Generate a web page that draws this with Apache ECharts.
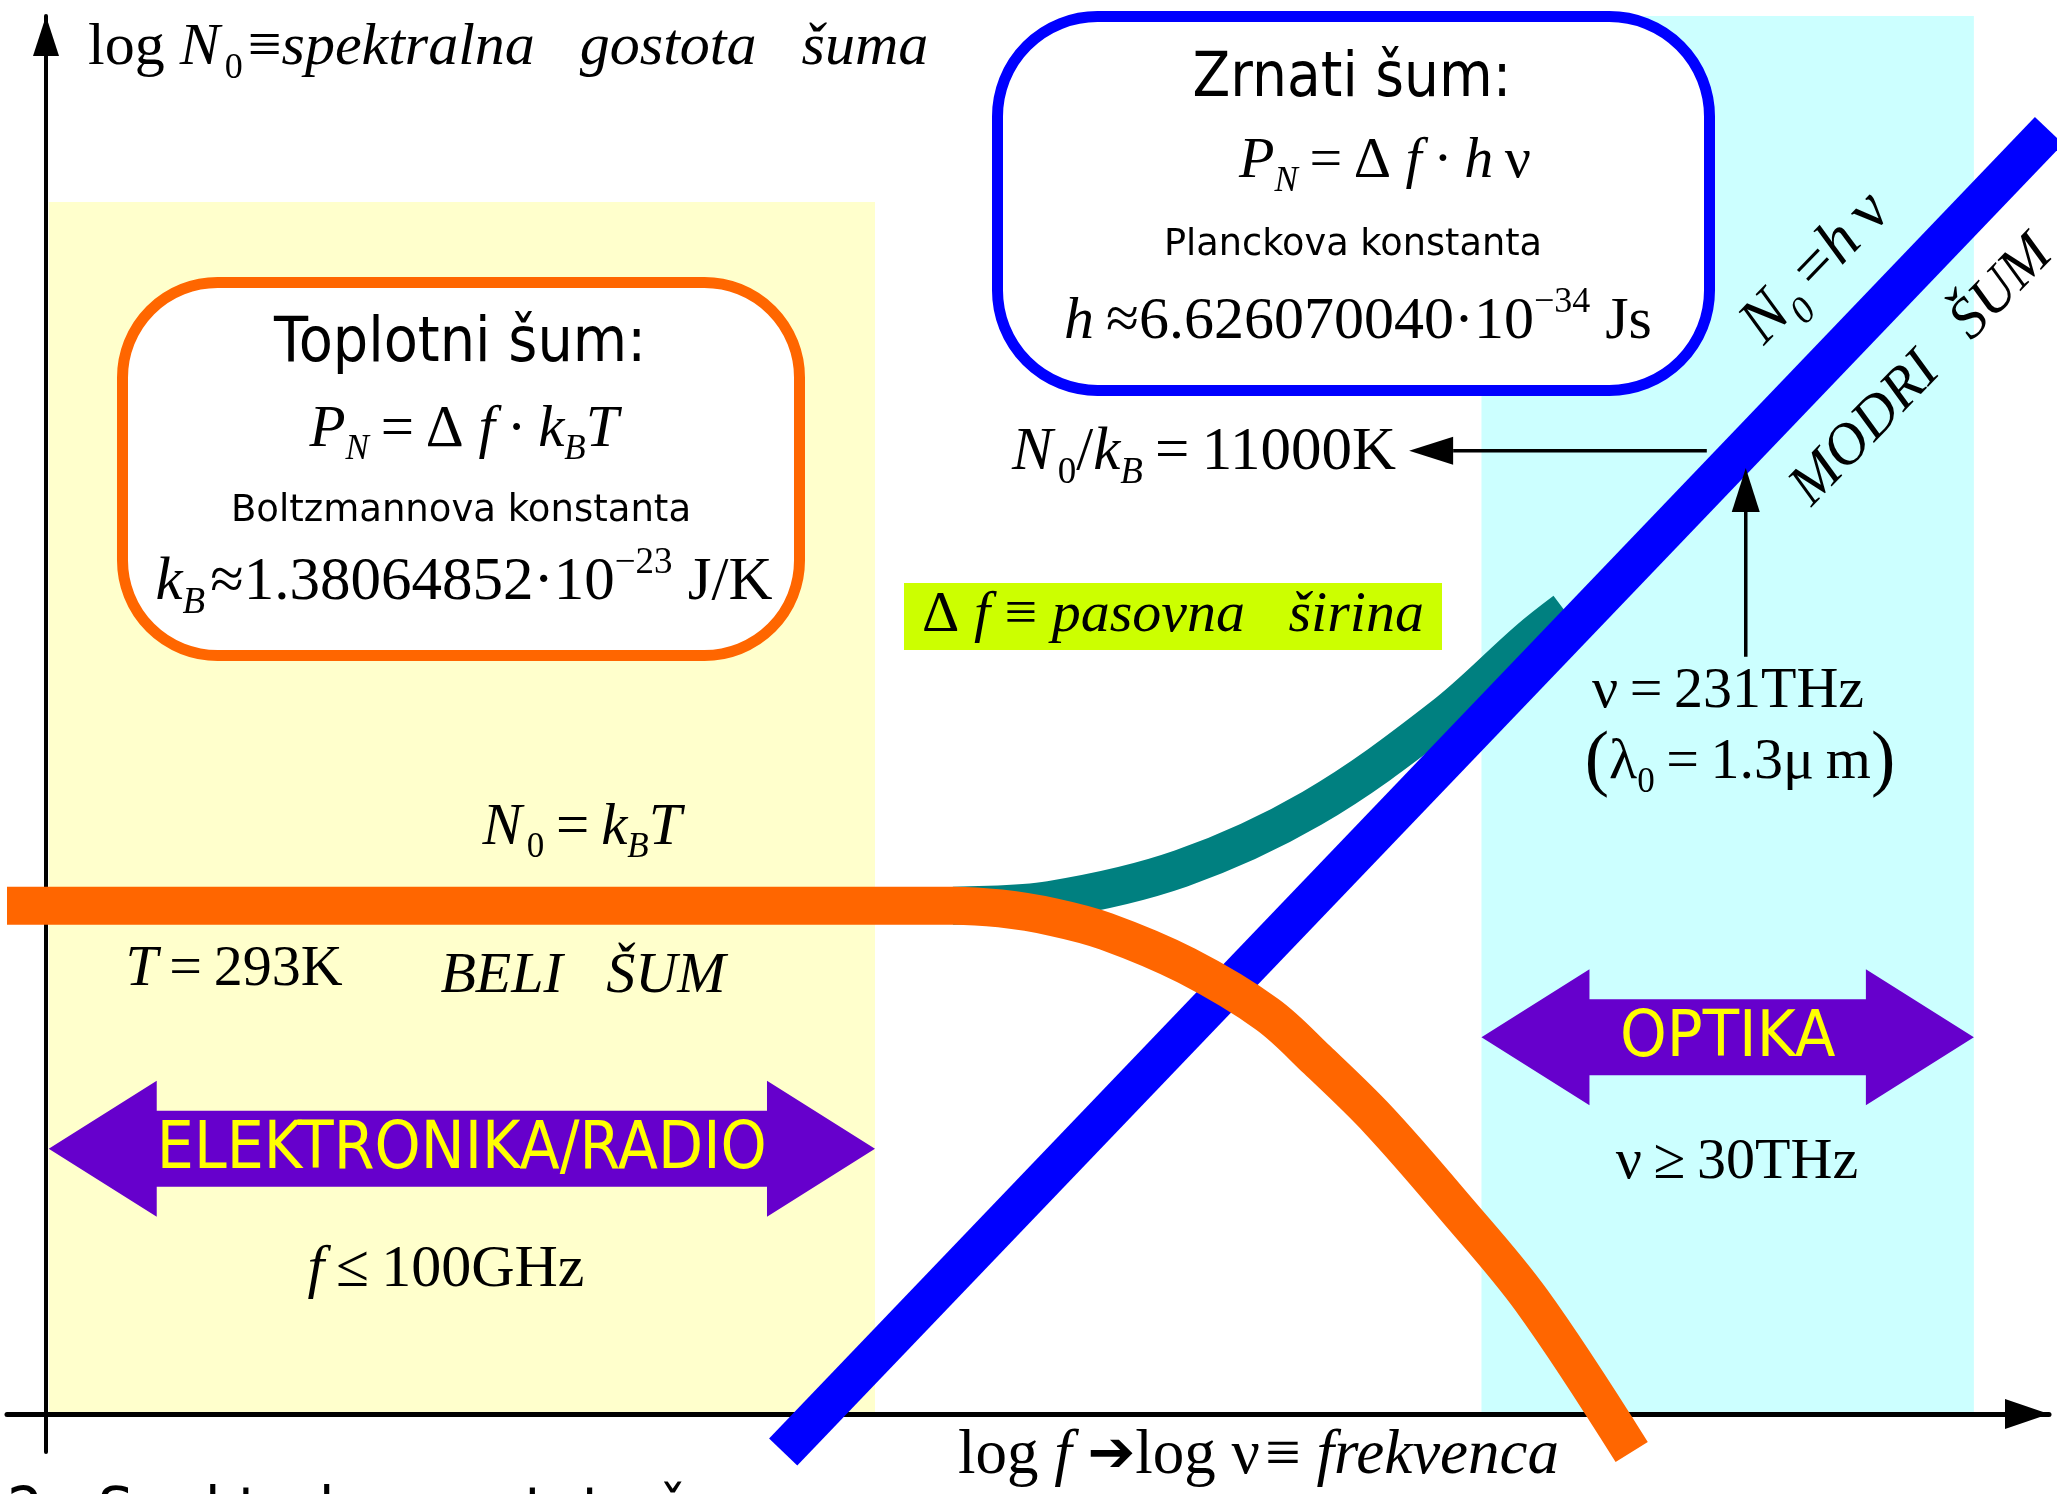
<!DOCTYPE html>
<html>
<head>
<meta charset="utf-8">
<title>Spektralna gostota šuma</title>
<script src="https://cdn.jsdelivr.net/npm/echarts@6/dist/echarts.min.js"></script>
<style>
  html, body { margin: 0; padding: 0; background: #ffffff; }
  #chart { width: 2057px; height: 1494px; }
</style>
</head>
<body>
<div id="chart"></div>
<script>
// Noise spectral density against frequency, both on log10 scales:
// x = log10(nu / Hz), y = log10(N0 / J)

// Thermal noise N0 = kB*T (T = 293 K), rolling off at high frequency
const thermalLogNu = [8.11, 11.51, 11.68, 11.87, 12.06, 12.35, 12.64, 12.82, 13.04, 13.31, 13.59, 13.95];
const thermalLogN0 = [-20.39, -20.39, -20.40, -20.43, -20.48, -20.60, -20.77, -20.93, -21.14, -21.44, -21.77, -22.30];

// Quantum (shot) noise N0 = h*nu
const quantumLogNu = [10.90, 15.45];
const quantumLogN0 = [-22.30, -17.68];

// Total noise, from the white plateau up into the h*nu line
const totalLogNu = [11.51, 11.86, 12.33, 12.80, 13.27, 13.58, 13.71];
const totalLogN0 = [-20.39, -20.37, -20.26, -20.05, -19.73, -19.46, -19.36];

// Frequency ranges (shaded bands with double arrows)
const rangeNames = ['ELEKTRONIKA/RADIO', 'OPTIKA'];
const rangeFromLogNu = [8.26, 13.41];
const rangeToLogNu = [11.23, 15.18];
const rangeTopLogN0 = [-17.93, -17.28];
const rangeArrowLogN0 = [-21.24, -20.85];
const rangeBaseLogN0 = -22.17;

// nu = 231 THz pointer and the N0/kB = 11000 K level pointer: [fromNu, fromN0, tipNu, tipN0]
const pointerArrows = [
  [14.36, -19.52, 14.36, -18.86],
  [14.22, -18.80, 13.15, -18.80]
];

// Axis ranges
const logNuRange = [8.11, 15.45];
const logN0Range = [-22.30, -17.28];

const SERIF = '"Liberation Serif", "Times New Roman", serif';
const SANS = '"DejaVu Sans", Verdana, sans-serif';

function pairs(xs, ys) { return xs.map((x, i) => [x, ys[i]]); }

// Rich-text styles for formulas; subscripts/superscripts are shifted
// with top/bottom padding so they sit below/above the main baseline.
function mathRich(S) {
  const base = { fontFamily: SERIF, fontSize: S, lineHeight: S, fill: '#000' };
  const small = Math.round(S * 0.6);
  const sub = { fontFamily: SERIF, fontSize: small, fill: '#000', padding: [Math.round(S * 0.68), 0, 0, 0] };
  const sup = { fontFamily: SERIF, fontSize: small, fill: '#000', padding: [0, 0, Math.round(S * 0.64), 0] };
  return {
    r: base,
    i: Object.assign({}, base, { fontStyle: 'italic' }),
    sub: sub,
    isub: Object.assign({}, sub, { fontStyle: 'italic' }),
    sup: sup,
    big: Object.assign({}, base, { fontSize: Math.round(S * 1.25) }),
    ar: { fontFamily: SANS, fontSize: Math.round(S * 0.9), fontWeight: 'bold', lineHeight: S, fill: '#000' }
  };
}

function formula(text, x, y, S, opts) {
  opts = opts || {};
  return {
    type: 'text', x: x, y: y, z: 100, silent: true,
    rotation: opts.rotation || 0,
    scaleX: opts.scaleX || 1,
    style: {
      text: text, rich: mathRich(S), fontFamily: SERIF, fontSize: S, fill: '#000',
      align: opts.align || 'center', verticalAlign: 'middle'
    }
  };
}

function sansText(text, x, y, size, opts) {
  opts = opts || {};
  return {
    type: 'text', x: x, y: y, z: 100, silent: true,
    scaleX: opts.scaleX || 1,
    style: {
      text: text, fontFamily: SANS, fontSize: size, fill: opts.fill || '#000',
      align: opts.align || 'center', verticalAlign: 'middle'
    }
  };
}

function roundBox(x, y, w, h, r, stroke) {
  return {
    type: 'rect', z: 50, silent: true,
    shape: { x: x, y: y, width: w, height: h, r: r },
    style: { fill: '#ffffff', stroke: stroke, lineWidth: 11 }
  };
}

const DEG = Math.PI / 180;
const TS = '\u2009';
const HS = '\u200A';

const labels = [
  // axis titles
  formula('{r|log }{i|N}{r|' + HS + '}{sub|0}{r|' + HS + '≡}{i|spektralna   gostota   šuma}', 88, 48, 60, { align: 'left' }),
  formula('{r|log }{i|f}{r| }{ar|➔}{r|log ν' + HS + '≡ }{i|frekvenca}', 958, 1456, 63, { align: 'left' }),

  // thermal noise box
  roundBox(122.5, 282.5, 677, 373, 95, '#FF6600'),
  sansText('Toplotni šum:', 460, 345, 62, { scaleX: 0.9 }),
  formula('{i|P}{isub|N}{r|' + TS + '=' + TS + 'Δ }{i|f}{r|' + TS + '·' + TS + '}{i|k}{isub|B}{i|T}', 464, 430, 59),
  sansText('Boltzmannova konstanta', 461, 511, 37),
  formula('{i|k}{isub|B}{r|' + HS + '≈1.38064852·10}{sup|−23}{r| J/K}', 464, 583, 61),

  // shot noise box
  roundBox(997.5, 16.5, 712, 374, 100, '#0000FF'),
  sansText('Zrnati šum:', 1352, 80, 62, { scaleX: 0.89 }),
  formula('{i|P}{isub|N}{r|' + TS + '=' + TS + 'Δ }{i|f}{r|' + TS + '·' + TS + '}{i|h}{r|' + TS + 'ν}', 1385, 162, 58),
  sansText('Planckova konstanta', 1353, 245, 38, { scaleX: 0.965 }),
  formula('{i|h}{r|' + TS + '≈6.626070040·10}{sup|−34}{r| Js}', 1358, 322, 60),

  // labels along the h*nu line
  formula('{i|N}{isub|0}{r|' + TS + '=}{i|h}{r|' + TS + 'ν}', 1816, 268, 64, { rotation: 46 * DEG }),
  formula('{i|MODRI   ŠUM}', 1922, 371, 58, { rotation: 46 * DEG }),

  // pointer labels
  formula('{i|N}{r|' + HS + '}{sub|0}{r|/}{i|k}{isub|B}{r|' + TS + '=' + TS + '11000K}', 1396, 453, 61, { align: 'right' }),
  formula('{r|ν' + TS + '=' + TS + '231THz}', 1728, 692, 58),
  formula('{big|(}{r|λ}{sub|0}{r|' + TS + '=' + TS + '1.3μ' + TS + 'm}{big|)}', 1740, 763, 58),

  // bandwidth tag
  { type: 'rect', z: 50, silent: true, shape: { x: 904, y: 583, width: 538, height: 67 }, style: { fill: '#CCFF00' } },
  formula('{r|Δ }{i|f}{r| ≡ }{i|pasovna   širina}', 1173, 616, 58),

  // white-noise labels
  formula('{i|N}{r|' + HS + '}{sub|0}{r|' + TS + '=' + TS + '}{i|k}{isub|B}{i|T}', 582, 828, 59),
  formula('{i|T}{r|' + TS + '=' + TS + '293K}', 234, 970, 58),
  formula('{i|BELI   ŠUM}', 583, 977, 58),

  // range limits
  formula('{i|f}{r|' + TS + '≤' + TS + '100GHz}', 446, 1270, 60),
  formula('{r|ν' + TS + '≥' + TS + '30THz}', 1737, 1163, 58),

  // caption
  sansText('2.  Spektralna gostota š', 7, 1514, 60, { align: 'left', scaleX: 0.95 })
];

const rangeFill = ['#FFFFCC', '#CCFFFF'];
const rangeText = [{ size: 66, scaleX: 0.89 }, { size: 64, scaleX: 0.93 }];

const chart = echarts.init(document.getElementById('chart'), null, { renderer: 'canvas', width: 2057, height: 1494 });

chart.setOption({
  animation: false,
  backgroundColor: '#ffffff',
  grid: { left: 7, right: 8, top: 16, bottom: 42, outerBoundsMode: 'none', containLabel: false },
  xAxis: {
    type: 'value', min: logNuRange[0], max: logNuRange[1], offset: -38, z: 3,
    axisLine: {
      show: true, onZero: false,
      lineStyle: { color: '#000', width: 5 },
      symbol: ['none', 'triangle'], symbolSize: [30, 44], symbolOffset: [0, -22]
    },
    axisTick: { show: false }, axisLabel: { show: false }, splitLine: { show: false }
  },
  yAxis: {
    type: 'value', min: logN0Range[0], max: logN0Range[1], offset: -39, z: 3,
    axisLine: {
      show: true, onZero: false,
      lineStyle: { color: '#000', width: 4 },
      symbol: ['none', 'triangle'], symbolSize: [26, 40], symbolOffset: [0, -20]
    },
    axisTick: { show: false }, axisLabel: { show: false }, splitLine: { show: false }
  },
  series: [
    {
      type: 'custom', name: 'ranges', z: 1, silent: true, clip: false,
      renderItem: function (params, api) {
        const tl = api.coord([api.value(0), api.value(3)]);
        const br = api.coord([api.value(1), api.value(2)]);
        return {
          type: 'rect',
          shape: { x: tl[0], y: tl[1], width: br[0] - tl[0], height: br[1] - tl[1] },
          style: { fill: rangeFill[params.dataIndex] }
        };
      },
      data: rangeNames.map((n, i) => [rangeFromLogNu[i], rangeToLogNu[i], rangeBaseLogN0, rangeTopLogN0[i]])
    },
    {
      type: 'line', name: 'total', z: 4, silent: true, clip: false,
      data: pairs(totalLogNu, totalLogN0),
      smooth: 0.35, symbol: 'none', showSymbol: false,
      lineStyle: { color: '#008080', width: 38, cap: 'butt', join: 'round' }
    },
    {
      type: 'line', name: 'quantum', z: 5, silent: true, clip: false,
      data: pairs(quantumLogNu, quantumLogN0),
      symbol: 'none', showSymbol: false,
      lineStyle: { color: '#0000FF', width: 39, cap: 'butt' }
    },
    {
      type: 'line', name: 'thermal', z: 6, silent: true, clip: false,
      data: pairs(thermalLogNu, thermalLogN0),
      smooth: 0.35, symbol: 'none', showSymbol: false,
      lineStyle: { color: '#FF6600', width: 38, cap: 'butt', join: 'round' }
    },
    {
      type: 'custom', name: 'rangeArrows', z: 7, silent: true, clip: false,
      renderItem: function (params, api) {
        const a = api.coord([api.value(0), api.value(2)]);
        const b = api.coord([api.value(1), api.value(2)]);
        const y = a[1], L = 108, H = 68, h = 38;
        const pts = [
          [a[0], y], [a[0] + L, y - H], [a[0] + L, y - h], [b[0] - L, y - h], [b[0] - L, y - H],
          [b[0], y], [b[0] - L, y + H], [b[0] - L, y + h], [a[0] + L, y + h], [a[0] + L, y + H]
        ];
        const cfg = rangeText[params.dataIndex];
        return {
          type: 'group',
          children: [
            { type: 'polygon', shape: { points: pts }, style: { fill: '#6600CC' } },
            {
              type: 'text', x: (a[0] + b[0]) / 2, y: y + 2, scaleX: cfg.scaleX,
              style: {
                text: rangeNames[params.dataIndex], fontFamily: SANS, fontSize: cfg.size,
                fill: '#FFFF00', align: 'center', verticalAlign: 'middle'
              }
            }
          ]
        };
      },
      data: rangeNames.map((n, i) => [rangeFromLogNu[i], rangeToLogNu[i], rangeArrowLogN0[i]])
    },
    {
      type: 'custom', name: 'pointers', z: 7, silent: true, clip: false,
      renderItem: function (params, api) {
        const p = api.coord([api.value(0), api.value(1)]);
        const q = api.coord([api.value(2), api.value(3)]);
        const dx = q[0] - p[0], dy = q[1] - p[1];
        const len = Math.hypot(dx, dy), ux = dx / len, uy = dy / len;
        const HL = 44, HW = 14;
        const bx = q[0] - ux * HL, by = q[1] - uy * HL;
        return {
          type: 'group',
          children: [
            { type: 'line', shape: { x1: p[0], y1: p[1], x2: bx, y2: by }, style: { stroke: '#000', lineWidth: 3.5 } },
            {
              type: 'polygon',
              shape: { points: [[q[0], q[1]], [bx - uy * HW, by + ux * HW], [bx + uy * HW, by - ux * HW]] },
              style: { fill: '#000' }
            }
          ]
        };
      },
      data: pointerArrows
    }
  ],
  graphic: { elements: labels }
});
</script>
</body>
</html>
